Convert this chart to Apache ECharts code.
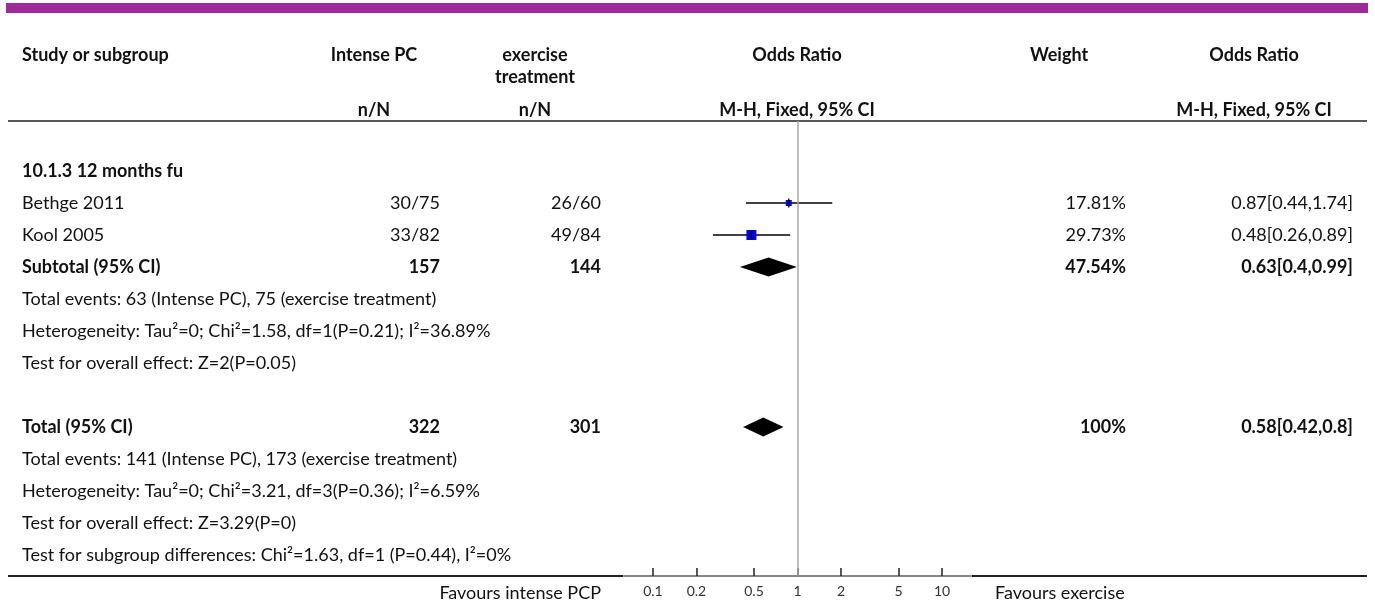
<!DOCTYPE html>
<html>
<head>
<meta charset="utf-8">
<script src="https://cdn.jsdelivr.net/npm/echarts@6/dist/echarts.min.js"></script>
<style>
html,body{margin:0;padding:0;background:#fff;}
#chart{width:1375px;height:606px;}
</style>
</head>
<body>
<div id="chart"></div>
<script>
// ---------------- DATA ----------------
const subgroupTitle = '10.1.3 12 months fu';
const studies = ['Bethge 2011', 'Kool 2005'];
const eventsIntense = [30, 33];
const totalIntense = [75, 82];
const eventsExercise = [26, 49];
const totalExercise = [60, 84];
const oddsRatio = [0.87, 0.48];
const ciLower = [0.44, 0.26];
const ciUpper = [1.74, 0.89];
const weights = [17.81, 29.73];

const subtotalN = [157, 144];
const subtotalOR = [0.63, 0.4, 0.99];
const subtotalWeight = 47.54;
const subgroupNotes = [
  'Total events: 63 (Intense PC), 75 (exercise treatment)',
  'Heterogeneity: Tau\u00b2=0; Chi\u00b2=1.58, df=1(P=0.21); I\u00b2=36.89%',
  'Test for overall effect: Z=2(P=0.05)'
];
const totalN = [322, 301];
const totalOR = [0.58, 0.42, 0.8];
const totalWeight = 100;
const totalNotes = [
  'Total events: 141 (Intense PC), 173 (exercise treatment)',
  'Heterogeneity: Tau\u00b2=0; Chi\u00b2=3.21, df=3(P=0.36); I\u00b2=6.59%',
  'Test for overall effect: Z=3.29(P=0)',
  'Test for subgroup differences: Chi\u00b2=1.63, df=1 (P=0.44), I\u00b2=0%'
];
const tickValues = [0.1, 0.2, 0.5, 1, 2, 5, 10];
const favoursLeft = 'Favours intense PCP';
const favoursRight = 'Favours exercise';

// ---------------- LAYOUT / STYLE ----------------
const FONT = 'Lato, "Noto Sans", sans-serif';
const fReg = '18px ' + FONT;
const fBold = 'bold 18px ' + FONT;
const TXT = '#111';
const colStudyX = 22, colIntX = 440, colExX = 601, colWX = 1126, colORX = 1353;

function fmtOR(a){ return a[0] + '[' + a[1] + ',' + a[2] + ']'; }

// build table rows (row index -> content)
const rows = [];
rows.push({r:0, cells:[{x:colStudyX, t:subgroupTitle, a:'left', b:true}]});
studies.forEach((s, i) => {
  rows.push({r:1+i, cells:[
    {x:colStudyX, t:s, a:'left'},
    {x:colIntX, t:eventsIntense[i] + '/' + totalIntense[i], a:'right'},
    {x:colExX, t:eventsExercise[i] + '/' + totalExercise[i], a:'right'},
    {x:colWX, t:weights[i] + '%', a:'right'},
    {x:colORX, t:fmtOR([oddsRatio[i], ciLower[i], ciUpper[i]]), a:'right'}
  ]});
});
rows.push({r:3, cells:[
  {x:colStudyX, t:'Subtotal (95% CI)', a:'left', b:true},
  {x:colIntX, t:String(subtotalN[0]), a:'right', b:true},
  {x:colExX, t:String(subtotalN[1]), a:'right', b:true},
  {x:colWX, t:subtotalWeight + '%', a:'right', b:true},
  {x:colORX, t:fmtOR(subtotalOR), a:'right', b:true}
]});
subgroupNotes.forEach((n, i) => rows.push({r:4+i, cells:[{x:colStudyX, t:n, a:'left'}]}));
rows.push({r:8, cells:[
  {x:colStudyX, t:'Total (95% CI)', a:'left', b:true},
  {x:colIntX, t:String(totalN[0]), a:'right', b:true},
  {x:colExX, t:String(totalN[1]), a:'right', b:true},
  {x:colWX, t:totalWeight + '%', a:'right', b:true},
  {x:colORX, t:fmtOR(totalOR), a:'right', b:true}
]});
totalNotes.forEach((n, i) => rows.push({r:9+i, cells:[{x:colStudyX, t:n, a:'left'}]}));

// forest marks
const studyMarks = studies.map((s, i) => [oddsRatio[i], 1+i, ciLower[i], ciUpper[i], weights[i]]);
const diamondMarks = [
  [subtotalOR[0], 3, subtotalOR[1], subtotalOR[2]],
  [totalOR[0], 8, totalOR[1], totalOR[2]]
];

const chart = echarts.init(document.getElementById('chart'), null, {renderer:'canvas'});

function hdr(x, y, text, align){
  return {type:'text', x:x, y:y, silent:true, style:{text:text, font:fBold, fill:TXT,
    textAlign:align, textVerticalAlign:'middle', align:align, verticalAlign:'middle'}};
}

const option = {
  animation:false,
  backgroundColor:'#fff',
  grid:{left:624, right:404, top:121, bottom:30, containLabel:false},
  xAxis:{
    type:'log', min:Math.pow(10,-1.2), max:Math.pow(10,1.2),
    splitLine:{show:false},
    axisLine:{show:true, onZero:false, lineStyle:{color:'#888', width:2}},
    axisTick:{show:true, inside:true, length:8, customValues:tickValues, lineStyle:{color:'#222', width:1.5}},
    axisLabel:{show:true, customValues:tickValues, margin:8, color:'#333', fontSize:14, fontFamily:FONT}
  },
  yAxis:{
    type:'value', inverse:true, min:-1.5625, max:12.65625,
    show:false, splitLine:{show:false}
  },
  series:[
    {
      type:'custom', name:'text', clip:false, silent:true,
      data: rows.map(rw => [1, rw.r]),
      renderItem:function(params, api){
        const rw = rows[params.dataIndex];
        const y = api.coord([1, rw.r])[1];
        return {type:'group', children: rw.cells.map(c => ({
          type:'text', x:c.x, y:y,
          style:{text:c.t, font:c.b ? fBold : fReg, fill:TXT,
            textAlign:c.a, textVerticalAlign:'middle', align:c.a, verticalAlign:'middle'}
        }))};
      },
      markLine:{
        silent:true, symbol:['none','none'], label:{show:false},
        lineStyle:{color:'#aaa', width:1.5, type:'solid'},
        data:[{xAxis:1}]
      }
    },
    {
      type:'custom', name:'studies', clip:false, silent:true,
      data: studyMarks,
      renderItem:function(params, api){
        const c = api.coord([api.value(0), api.value(1)]);
        const lo = api.coord([api.value(2), api.value(1)]);
        const hi = api.coord([api.value(3), api.value(1)]);
        const sz = api.value(4) * 0.336;
        return {type:'group', children:[
          {type:'line', shape:{x1:lo[0], y1:c[1], x2:hi[0], y2:c[1]}, style:{stroke:'#000', lineWidth:1.5}},
          {type:'rect', shape:{x:c[0]-sz/2, y:c[1]-sz/2, width:sz, height:sz}, style:{fill:'#0000ee'}},
          {type:'line', shape:{x1:c[0], y1:c[1]-4.5, x2:c[0], y2:c[1]+4.5}, style:{stroke:'#000', lineWidth:1.3}}
        ]};
      }
    },
    {
      type:'custom', name:'diamonds', clip:false, silent:true,
      data: diamondMarks,
      renderItem:function(params, api){
        const c = api.coord([api.value(0), api.value(1)]);
        const lo = api.coord([api.value(2), api.value(1)]);
        const hi = api.coord([api.value(3), api.value(1)]);
        const h = 9.5;
        return {type:'polygon', shape:{points:[[lo[0], c[1]], [c[0], c[1]-h], [hi[0], c[1]], [c[0], c[1]+h]]},
          style:{fill:'#000'}};
      }
    }
  ],
  graphic:[
    {type:'rect', silent:true, shape:{x:6, y:3, width:1362, height:10}, style:{fill:'#9d2a98'}},
    hdr(22, 55, 'Study or subgroup', 'left'),
    hdr(374, 55, 'Intense PC', 'center'),
    hdr(535, 55, 'exercise', 'center'),
    hdr(535, 77, 'treatment', 'center'),
    hdr(797, 55, 'Odds Ratio', 'center'),
    hdr(1059, 55, 'Weight', 'center'),
    hdr(1254, 55, 'Odds Ratio', 'center'),
    hdr(374, 110, 'n/N', 'center'),
    hdr(535, 110, 'n/N', 'center'),
    hdr(797, 110, 'M-H, Fixed, 95% CI', 'center'),
    hdr(1254, 110, 'M-H, Fixed, 95% CI', 'center'),
    {type:'line', silent:true, shape:{x1:8, y1:121, x2:1367, y2:121}, style:{stroke:'#222', lineWidth:1.5}},
    {type:'line', silent:true, shape:{x1:8, y1:576, x2:623, y2:576}, style:{stroke:'#222', lineWidth:2}},
    {type:'line', silent:true, shape:{x1:972, y1:576, x2:1367, y2:576}, style:{stroke:'#222', lineWidth:2}},
    {type:'text', silent:true, x:601, y:593, style:{text:favoursLeft, font:fReg, fill:TXT,
      textAlign:'right', textVerticalAlign:'middle', align:'right', verticalAlign:'middle'}},
    {type:'text', silent:true, x:995, y:593, style:{text:favoursRight, font:fReg, fill:TXT,
      textAlign:'left', textVerticalAlign:'middle', align:'left', verticalAlign:'middle'}}
  ]
};
chart.setOption(option);
</script>
</body>
</html>
